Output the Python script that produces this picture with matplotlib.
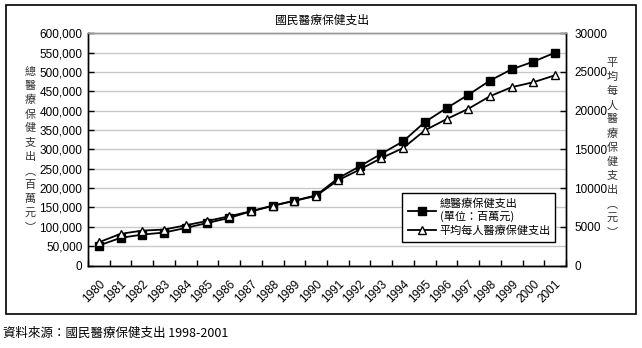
import matplotlib
matplotlib.use("Agg")
import matplotlib.pyplot as plt
from matplotlib.lines import Line2D
from matplotlib.patches import Rectangle
from matplotlib.ticker import FuncFormatter, MultipleLocator, FixedLocator

CJK = ['Noto Sans CJK TC', 'DejaVu Sans']
NUM = 'Liberation Sans'

years = [str(y) for y in range(1980, 2002)]
# total expenditure (million NT$), left axis
total = [51600, 71400, 79900, 85100, 97100, 110000, 122900, 140100, 154700, 167600, 181300,
         225200, 256100, 288800, 320600, 370500, 406600, 440900, 477800, 507000, 526800, 550000]
# per capita expenditure (NT$), right axis
per_capita = [3000, 4090, 4510, 4640, 5200, 5760, 6360, 7000, 7700, 8350, 9000,
              11000, 12380, 13880, 15170, 17450, 18910, 20240, 21870, 23040, 23680, 24580]

title = '國民醫療保健支出'
left_label = '總醫療保健支出︵百萬元︶'
right_label = '平均每人醫療保健支出︵元︶'
legend_labels = ['總醫療保健支出\n(單位：百萬元)', '平均每人醫療保健支出']
source = '資料來源：國民醫療保健支出 1998-2001'

W, H = 642, 348
fig = plt.figure(figsize=(W / 100, H / 100), dpi=100)

def fx(px):
    return px / W

def fy(py):
    return 1 - py / H

ax = fig.add_axes([fx(88), fy(265.5), fx(566 - 88), (265.5 - 33.3) / H])
ax2 = ax.twinx()

x = list(range(len(years)))
ax.plot(x, total, color='black', lw=1.3, marker='s', ms=5.8, mfc='black', mec='black', zorder=3)
ax2.plot(x, per_capita, color='black', lw=1.3, marker='^', ms=5.5, mfc='white', mec='black', mew=1, zorder=3)

ax.set_xlim(-0.5, len(years) - 0.5)
ax.set_ylim(0, 600000)
ax2.set_ylim(0, 30000)

ax.yaxis.set_major_locator(MultipleLocator(50000))
ax.yaxis.set_major_formatter(FuncFormatter(lambda v, p: f'{v:,.0f}'))
ax2.yaxis.set_major_locator(MultipleLocator(5000))
ax2.yaxis.set_major_formatter(FuncFormatter(lambda v, p: f'{v:.0f}'))

ax.xaxis.set_major_locator(FixedLocator([i - 0.5 for i in range(len(years) + 1)]))
ax.xaxis.set_major_formatter(FuncFormatter(lambda v, p: ''))
ax.set_xticks(x, minor=True)
ax.set_xticklabels(years, minor=True, rotation=45, ha='right', rotation_mode='anchor',
                   fontsize=8.5, family=NUM)
ax.tick_params(axis='x', which='minor', length=0, pad=9)
ax.tick_params(axis='x', which='major', direction='in', length=4, width=1)
ax.tick_params(axis='y', direction='in', length=4, width=1, labelsize=8.5, pad=4)
ax2.tick_params(axis='y', direction='in', length=4, width=1, labelsize=8.5, pad=6)
for lab in ax.get_yticklabels() + ax2.get_yticklabels():
    lab.set_family(NUM)

ax.grid(axis='y', color='#c8c8c8', lw=1)
ax.set_axisbelow(True)
for a in (ax, ax2):
    for s in ('left', 'bottom', 'right'):
        a.spines[s].set_color('black')
        a.spines[s].set_linewidth(1)
    a.spines['top'].set_color('#999999')
    a.spines['top'].set_linewidth(1)

# title
fig.text(fx(322), fy(20), title, ha='center', va='center', fontsize=8.5, family=CJK)

# vertical stacked axis labels
for i, ch in enumerate(left_label):
    fig.text(fx(30), fy(72 + i * 14.1), ch, ha='center', va='center', fontsize=8,
             family=CJK, color='#333333')
for i, ch in enumerate(right_label):
    fig.text(fx(612), fy(63 + i * 14.1), ch, ha='center', va='center', fontsize=8,
             family=CJK, color='#333333')

# legend
handles = [
    Line2D([], [], color='black', lw=1.3, marker='s', ms=5.8, mfc='black', mec='black'),
    Line2D([], [], color='black', lw=1.3, marker='^', ms=5.5, mfc='white', mec='black'),
]
leg = fig.legend(handles, legend_labels, loc='center left',
                 bbox_to_anchor=(fx(402), fy(247), fx(555 - 402), (247 - 188) / H),
                 mode='expand', frameon=True, fancybox=False, framealpha=1,
                 edgecolor='black', handlelength=2.6, handletextpad=0.3,
                 labelspacing=0.3, borderpad=0.5, borderaxespad=0, prop={'family': CJK, 'size': 8})
leg.get_frame().set_linewidth(1)

# outer border
fig.patches.append(Rectangle((fx(6), fy(314)), fx(636 - 6), (314 - 5) / H,
                             transform=fig.transFigure, fill=False, ec='black', lw=1.2))

# source note
fig.text(fx(3), fy(333), source, ha='left', va='center', fontsize=9, family=CJK)

fig.savefig('out.png', dpi=100)
